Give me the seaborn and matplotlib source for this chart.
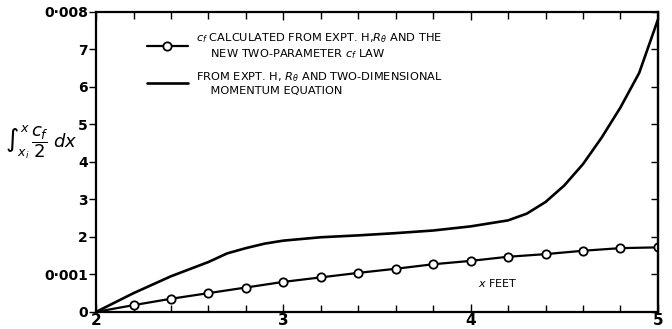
import numpy as np
import pandas as pd
import matplotlib
matplotlib.use("Agg")
import matplotlib.pyplot as plt
from matplotlib.ticker import MultipleLocator, FixedLocator
import seaborn as sns

# Integral of cf/2 from the new two-parameter cf law (open circles)
x_law = [2.0, 2.2, 2.4, 2.6, 2.8, 3.0, 3.2, 3.4, 3.6, 3.8, 4.0, 4.2, 4.4, 4.6, 4.8, 5.0]
int_law = [0.0, 0.00018, 0.00035, 0.00050, 0.00065, 0.00080, 0.00092, 0.00104,
           0.00115, 0.00127, 0.00136, 0.00147, 0.00154, 0.00163, 0.00170, 0.00172]

# Integral of cf/2 from the two-dimensional momentum equation (solid curve)
x_mom = [2.0, 2.2, 2.4, 2.6, 2.7, 2.8, 2.9, 3.0, 3.2, 3.4, 3.6, 3.8, 4.0, 4.1,
         4.2, 4.3, 4.4, 4.5, 4.6, 4.7, 4.8, 4.9, 5.0]
int_mom = [0.0, 0.00050, 0.00095, 0.00133, 0.00156, 0.00170, 0.00182, 0.00190,
           0.00199, 0.00204, 0.00210, 0.00217, 0.00228, 0.00236, 0.00244, 0.00262,
           0.00293, 0.00337, 0.00394, 0.00465, 0.00545, 0.00637, 0.00779]

y_ticks = [0, 0.001, 0.002, 0.003, 0.004, 0.005, 0.006, 0.007, 0.008]
y_tick_labels = ["0", "0·001", "2", "3", "4", "5", "6", "7", "0·008"]
x_ticks = [2, 3, 4, 5]

label_law = ("$c_f$ CALCULATED FROM EXPT. H,$R_\\theta$ AND THE\n"
             "    NEW TWO-PARAMETER $c_f$ LAW")
label_mom = ("FROM EXPT. H, $R_\\theta$ AND TWO-DIMENSIONAL\n"
             "    MOMENTUM EQUATION")

sns.set_style("ticks")
plt.rcParams["font.family"] = ["DejaVu Sans"]
plt.rcParams["mathtext.fontset"] = "dejavusans"
plt.rcParams["text.color"] = "black"
plt.rcParams["xtick.color"] = "black"
plt.rcParams["ytick.color"] = "black"

fig = plt.figure(figsize=(6.72, 3.29), dpi=100)
ax = fig.add_axes([0.143, 0.052, 0.836, 0.912])

df_law = pd.DataFrame({"x": x_law, "v": int_law})
df_mom = pd.DataFrame({"x": x_mom, "v": int_mom})

sns.lineplot(data=df_law, x="x", y="v", ax=ax, color="black", lw=1.6,
             marker="o", markersize=6, markerfacecolor="white",
             markeredgecolor="black", markeredgewidth=1.3,
             markevery=list(range(1, len(x_law))), label=label_law)
sns.lineplot(data=df_mom, x="x", y="v", ax=ax, color="black", lw=1.9,
             label=label_mom)

ax.set_xlim(2, 5)
ax.set_ylim(0, 0.008)

for s in ax.spines.values():
    s.set_linewidth(1.6)
    s.set_color("black")

ax.xaxis.set_major_locator(FixedLocator(x_ticks))
ax.xaxis.set_minor_locator(MultipleLocator(0.2))
ax.set_xticklabels([str(v) for v in x_ticks], fontsize=11, fontweight="bold",
                   color="black")
ax.tick_params(axis="x", which="both", direction="in", top=True, bottom=True,
               length=5, width=1.0, pad=1, colors="black")
ax.tick_params(axis="x", which="major", length=6)

ax.set_yticks(y_ticks)
ax.set_yticklabels(y_tick_labels, fontsize=10, fontweight="bold", color="black")
ax.tick_params(axis="y", which="both", direction="out", left=True, right=False,
               length=5, width=1.0, pad=1, colors="black")

# inward ticks along the right-hand border
sec = ax.secondary_yaxis("right")
sec.set_yticks(y_ticks)
sec.set_yticklabels([])
sec.tick_params(direction="in", length=5, width=1.0, colors="black")
sec.spines["right"].set_linewidth(1.6)

ax.set_xlabel("")
ax.set_ylabel(r"$\int_{x_i}^{x}\,\dfrac{c_f}{2}\;dx$", rotation=0, fontsize=13,
              va="center", ha="center", color="black")
ax.yaxis.set_label_coords(-0.097, 0.565)

ax.text(4.04, 0.00077, "$x$ FEET", fontsize=8, va="center", ha="left")

leg = ax.legend(loc="upper left", bbox_to_anchor=(0.082, 0.95), frameon=False,
                fontsize=8.2, handlelength=3.6, handletextpad=0.7,
                labelspacing=0.8, borderaxespad=0)

fig.savefig("out.png", dpi=100)
